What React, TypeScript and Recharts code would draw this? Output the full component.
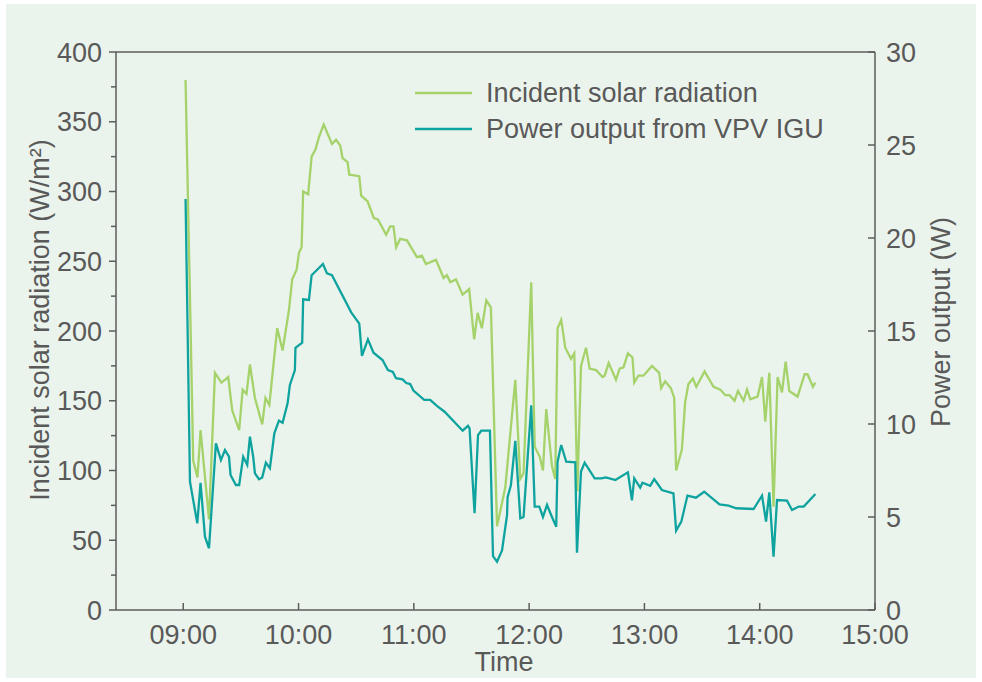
import React from 'react';
import { LineChart, Line, XAxis, YAxis, ReferenceLine, Legend } from 'recharts';

// time of day in minutes after midnight
const radiationTimes = [
  541.2, 545.2, 547.4, 549.0, 553.4, 556.5, 559.9, 563.4, 565.5, 569.1,
  570.9, 572.9, 574.7, 577.3, 581.1, 582.8, 584.8, 588.9, 591.7, 595.0,
  596.7, 599.0, 600.2, 601.6, 602.4, 605.0, 606.8, 608.8, 610.6, 613.1,
  617.4, 619.5, 621.7, 622.9, 625.5, 626.4, 631.6, 632.6, 635.9, 639.2,
  641.3, 645.6, 647.7, 649.4, 650.8, 652.9, 656.4, 661.6, 664.2, 666.3,
  671.5, 675.5, 677.2, 679.0, 681.9, 685.4, 688.8, 691.4, 693.2, 695.4,
  697.7, 700.1, 703.3, 707.6, 712.8, 715.4, 717.1, 721.1, 722.9, 725.5,
  727.2, 728.9, 731.9, 733.6, 734.8, 736.7, 738.8, 741.8, 743.5, 745.1,
  747.0, 749.6, 751.5, 754.8, 758.2, 759.3, 761.4, 765.2, 767.1, 769.1,
  771.4, 773.8, 774.7, 776.9, 779.5, 783.9, 787.7, 788.7, 790.8, 793.8,
  795.5, 796.5, 799.5, 801.2, 802.9, 805.2, 807.0, 811.3, 816.0, 819.5,
  822.1, 824.3, 826.9, 828.7, 831.6, 833.4, 835.1, 838.9, 841.2, 842.9,
  845.0, 847.2, 849.3, 851.6, 853.5, 855.4, 859.7, 863.4, 864.9, 867.7,
  868.9,
];

// W/m2
const radiationValues = [
  380, 107, 95, 129, 65, 170, 163, 167, 143, 129,
  158, 155, 176, 152, 133, 152, 147, 202, 186, 215,
  237, 244, 256, 260, 300, 298, 325, 330, 339, 348,
  334, 337, 333, 324, 321, 312, 311, 297, 293, 281,
  280, 269, 275, 275, 260, 266, 265, 253, 254, 248,
  251, 238, 240, 235, 237, 226, 230, 194, 213, 202,
  222, 217, 60, 88, 165, 94, 98, 235, 117, 110,
  100, 144, 103, 94, 202, 208, 188, 180, 184, 85,
  175, 188, 173, 172, 167, 168, 177, 165, 173, 174,
  184, 181, 163, 168, 168, 175, 170, 159, 164, 159,
  152, 100, 115, 149, 162, 166, 160, 171, 160, 158,
  154, 154, 150, 157, 150, 158, 151, 153, 167, 135,
  170, 74, 167, 156, 178, 157, 153, 169, 169, 160,
  163,
];

const powerTimes = [
  541.2, 543.5, 547.3, 549.0, 551.3, 553.4, 557.0, 559.6, 561.7, 563.8,
  564.6, 567.4, 569.1, 571.2, 573.3, 574.7, 576.4, 577.3, 579.4, 581.1,
  583.0, 585.1, 587.4, 589.8, 591.7, 594.3, 595.5, 598.1, 598.4, 601.9,
  602.4, 605.4, 606.8, 612.7, 614.8, 617.4, 627.4, 631.6, 633.0, 636.1,
  639.0, 643.7, 646.5, 649.1, 650.7, 654.1, 656.1, 658.1, 659.8, 665.4,
  668.5, 672.0, 676.0, 685.4, 688.2, 689.0, 691.6, 693.4, 695.1, 699.6,
  701.2, 703.3, 705.9, 708.5, 708.8, 710.5, 712.8, 715.4, 717.1, 721.1,
  722.9, 725.3, 727.2, 729.3, 731.9, 734.1, 734.8, 736.7, 739.3, 744.0,
  744.9, 747.0, 748.9, 754.1, 757.6, 760.0, 764.9, 771.4, 773.5, 774.7,
  777.8, 779.0, 783.0, 785.1, 789.1, 795.1, 796.5, 799.2, 802.4, 806.8,
  811.1, 819.1, 823.8, 827.8, 836.8, 841.2, 843.3, 845.0, 847.2, 849.0,
  854.2, 856.8, 860.3, 862.9, 869.0,
];

// W
const powerValues = [
  22.1, 6.9, 4.66, 6.84, 3.94, 3.32, 8.96, 8.06, 8.6, 8.24,
  7.26, 6.72, 6.72, 8.24, 7.8, 9.32, 8.24, 7.35, 7.03, 7.13,
  7.92, 7.62, 9.5, 10.18, 10.07, 11.11, 12.1, 12.9, 14.1, 14.37,
  16.7, 16.67, 18.0, 18.6, 18.1, 18.0, 16.0, 15.4, 13.66, 14.55,
  13.83, 13.44, 12.9, 12.8, 12.46, 12.4, 12.2, 12.15, 11.8, 11.3,
  11.3, 10.97, 10.66, 9.64, 9.9, 9.77, 5.2, 9.4, 9.64, 9.64,
  2.9, 2.6, 3.2, 5.1, 6.06, 6.7, 9.1, 4.93, 5.0, 11.0,
  5.56, 5.56, 5.0, 5.65, 5.0, 4.48, 7.97, 8.87, 7.97, 7.94,
  3.08, 7.44, 7.92, 7.08, 7.08, 7.13, 6.99, 7.4, 5.9, 7.08,
  6.58, 6.84, 6.68, 7.04, 6.45, 6.27, 4.27, 4.75, 6.15, 6.04,
  6.36, 5.68, 5.61, 5.47, 5.43, 6.15, 4.75, 6.33, 2.87, 5.91,
  5.88, 5.38, 5.56, 5.56, 6.24,
];

const timeTicks = [540, 600, 660, 720, 780, 840, 900];
const radiationTicks = [0, 25, 50, 75, 100, 125, 150, 175, 200, 225, 250, 275, 300, 325, 350, 375, 400];
const powerTicks = [0, 5, 10, 15, 20, 25, 30];

const radiationData = radiationTimes.map((t, i) => ({ t, radiation: radiationValues[i] }));
const powerData = powerTimes.map((t, i) => ({ t, power: powerValues[i] }));

const AXIS = '#5c5c5c';
const TEXT = '#595959';
const GREEN = '#a5d26b';
const TEAL = '#0fa39f';
const BG = '#ebf4ec';
const FONT = '"Liberation Sans", Arial, Helvetica, sans-serif';
const FS = 27;

const fmtTime = (v: number) => `${String(Math.floor(v / 60)).padStart(2, '0')}:00`;

const LeftTick = (props: any) => {
  const { x, y, payload } = props;
  const major = payload.value % 50 === 0;
  return (
    <g>
      <line x1={x - (major ? 7 : 5)} x2={x} y1={y} y2={y} stroke={AXIS} strokeWidth={1.5} />
      {major && (
        <text x={x - 14} y={y} dy="0.36em" textAnchor="end" fill={TEXT} fontSize={FS} fontFamily={FONT}>
          {payload.value}
        </text>
      )}
    </g>
  );
};

const RightTick = (props: any) => {
  const { x, y, payload } = props;
  return (
    <g>
      <line x1={x - 7} x2={x} y1={y} y2={y} stroke={AXIS} strokeWidth={1.5} />
      <text x={x + 11} y={y} dy="0.36em" textAnchor="start" fill={TEXT} fontSize={FS} fontFamily={FONT}>
        {payload.value}
      </text>
    </g>
  );
};

const BottomTick = (props: any) => {
  const { x, y, payload } = props;
  return (
    <g>
      <line x1={x} x2={x} y1={y - 7} y2={y} stroke={AXIS} strokeWidth={1.5} />
      <text x={x} y={y + 34} textAnchor="middle" fill={TEXT} fontSize={FS} fontFamily={FONT}>
        {fmtTime(payload.value)}
      </text>
    </g>
  );
};

const LegendBox = ({ payload }: any) => (
  <div>
    {(payload || []).map((p: any) => (
      <div key={p.value} style={{ display: 'flex', alignItems: 'center', height: 36 }}>
        <svg width={57} height={4} style={{ display: 'block' }}>
          <line x1={0} x2={57} y1={2} y2={2} stroke={p.color} strokeWidth={2.4} />
        </svg>
        <span style={{ marginLeft: 14, fontSize: FS, color: TEXT, fontFamily: FONT, lineHeight: '36px', whiteSpace: 'nowrap' }}>
          {p.value}
        </span>
      </div>
    ))}
  </div>
);

export default function App() {
  return (
    <div style={{ position: 'absolute', left: 0, top: 0, width: 982, height: 682, background: '#ffffff' }}>
      <div style={{ position: 'absolute', left: 6, top: 4, width: 970, height: 674, background: BG }} />
      <div style={{ position: 'absolute', left: 0, top: 0 }}>
        <LineChart width={982} height={682} margin={{ top: 52, right: 47, bottom: 42, left: 56 }}>
          <XAxis
            dataKey="t"
            type="number"
            domain={[505, 900]}
            ticks={timeTicks}
            interval={0}
            allowDataOverflow
            height={30}
            tickSize={0}
            tickMargin={0}
            tickLine={false}
            axisLine={{ stroke: AXIS, strokeWidth: 1.5 }}
            tick={<BottomTick />}
          />
          <YAxis
            yAxisId="left"
            domain={[0, 400]}
            ticks={radiationTicks}
            interval={0}
            width={60}
            tickSize={0}
            tickMargin={0}
            tickLine={false}
            axisLine={{ stroke: AXIS, strokeWidth: 1.5 }}
            tick={<LeftTick />}
          />
          <YAxis
            yAxisId="right"
            orientation="right"
            domain={[0, 30]}
            ticks={powerTicks}
            interval={0}
            width={60}
            tickSize={0}
            tickMargin={0}
            tickLine={false}
            axisLine={{ stroke: AXIS, strokeWidth: 1.5 }}
            tick={<RightTick />}
          />
          <ReferenceLine yAxisId="left" y={400} stroke={AXIS} strokeWidth={1.5} />
          <Legend
            layout="vertical"
            align="center"
            verticalAlign="middle"
            content={<LegendBox />}
            wrapperStyle={{ left: 415, top: 75, width: 'auto', height: 'auto' }}
          />
          <Line
            yAxisId="left"
            data={radiationData}
            dataKey="radiation"
            name="Incident solar radiation"
            type="linear"
            stroke={GREEN}
            strokeWidth={2.3}
            dot={false}
            isAnimationActive={false}
          />
          <Line
            yAxisId="right"
            data={powerData}
            dataKey="power"
            name="Power output from VPV IGU"
            type="linear"
            stroke={TEAL}
            strokeWidth={2.3}
            dot={false}
            isAnimationActive={false}
          />
        </LineChart>
      </div>
      <svg width={982} height={682} style={{ position: 'absolute', left: 0, top: 0, pointerEvents: 'none' }}>
        <text
          x={40}
          y={320}
          transform="rotate(-90 40 320)"
          textAnchor="middle"
          dominantBaseline="central"
          fill={TEXT}
          fontSize={FS}
          fontFamily={FONT}
        >
          Incident solar radiation (W/m²)
        </text>
        <text
          x={941}
          y={322}
          transform="rotate(-90 941 322)"
          textAnchor="middle"
          dominantBaseline="central"
          fill={TEXT}
          fontSize={FS}
          fontFamily={FONT}
        >
          Power output (W)
        </text>
        <text x={504} y={671} textAnchor="middle" fill={TEXT} fontSize={FS} fontFamily={FONT}>
          Time
        </text>
      </svg>
    </div>
  );
}
